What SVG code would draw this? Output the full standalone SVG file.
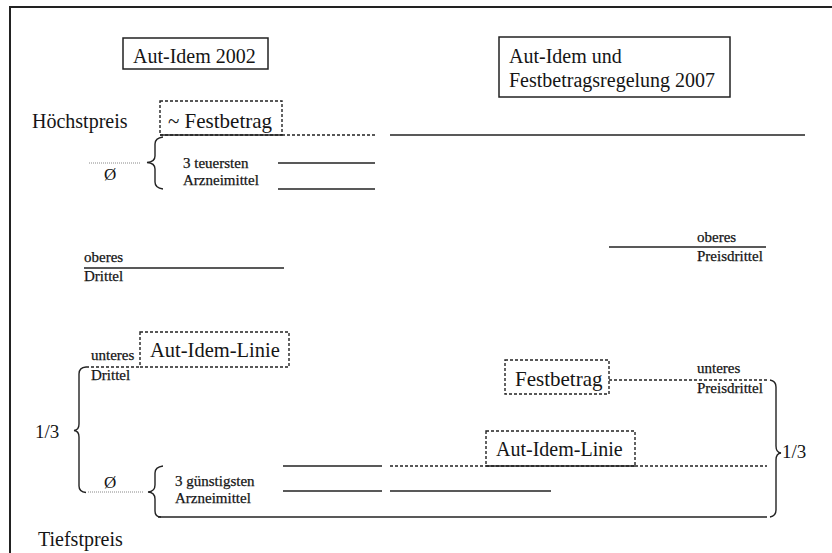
<svg xmlns="http://www.w3.org/2000/svg" width="832" height="553" viewBox="0 0 832 553">
<style>
text{font-family:"Liberation Serif","Times New Roman",serif;fill:#151515}
.big{font-size:20px}
.sm{font-size:15px;stroke:#151515;stroke-width:0.25}
.box{fill:#fff;stroke:#222;stroke-width:1.5}
.dbox{fill:none;stroke:#222;stroke-width:1.4;stroke-dasharray:3 2}
.ln{fill:none;stroke:#222;stroke-width:1.5}
.dot{fill:none;stroke:#222;stroke-width:1.4;stroke-dasharray:3 2}
.gdot{fill:none;stroke:#888;stroke-width:1;stroke-dasharray:1 1}
.br{fill:none;stroke:#222;stroke-width:1.4}
</style>
<rect width="832" height="553" fill="#fff"/>
<g id="frame">
<line class="ln" x1="10" y1="7" x2="832" y2="7" style="stroke-width:2"/>
<line class="ln" x1="10" y1="6" x2="10" y2="553" style="stroke-width:2"/>
</g>
<g id="connectors">
<line class="ln" x1="160" y1="135" x2="282" y2="135"/>
<line class="dot" x1="282" y1="135" x2="376" y2="135"/>
<line class="ln" x1="390" y1="135" x2="805" y2="135"/>
<line class="gdot" x1="89" y1="163" x2="141" y2="163"/>
<line class="ln" x1="278" y1="163" x2="375" y2="163"/>
<line class="ln" x1="278" y1="189" x2="375" y2="189"/>
<line class="ln" x1="84" y1="268" x2="284" y2="268"/>
<line class="ln" x1="609" y1="247" x2="766" y2="247"/>
<line class="dot" x1="86" y1="367" x2="140" y2="367"/>
<line class="dot" x1="609" y1="380" x2="768" y2="380"/>
<line class="ln" x1="283" y1="466" x2="382" y2="466"/>
<line class="dot" x1="390" y1="466" x2="486" y2="466"/>
<line class="ln" x1="486" y1="466" x2="635" y2="466"/>
<line class="dot" x1="635" y1="466" x2="767" y2="466"/>
<line class="gdot" x1="88" y1="492" x2="143" y2="492"/>
<line class="ln" x1="283" y1="491" x2="382" y2="491"/>
<line class="ln" x1="390" y1="491" x2="551" y2="491"/>
<line class="ln" x1="158" y1="517" x2="767" y2="517"/>
<path class="br" d="M163 137 Q155 138 155 144 L155 156 Q155 162 147 162.5 Q155 163 155 169 L155 182 Q155 188 163 189"/>
<path class="br" d="M86 367 Q79 367.5 79 374 L79 424 Q79 430 74 430.5 Q79 431 79 437 L79 486 Q79 492 86 492.5"/>
<path class="br" d="M163 466 Q155 467 155 473 L155 485 Q155 491.5 148 492 Q155 492.5 155 499 L155 511 Q155 517 161 517"/>
<path class="br" d="M770 380 Q776 381 776 387 L776 446 Q776 452.5 781 453 Q776 453.5 776 460 L776 510 Q776 516 770 517"/>
</g>
<g id="title-2002">
<rect class="box" x="123" y="38" width="145" height="31"/>
<text class="big" x="133" y="63">Aut-Idem 2002</text>
</g>
<g id="title-2007">
<rect class="box" x="499" y="37" width="231" height="60"/>
<text class="big" x="509" y="63">Aut-Idem und</text>
<text class="big" x="509" y="87">Festbetragsregelung 2007</text>
</g>
<g id="hoechstpreis">
<text class="big" x="32" y="128">Höchstpreis</text>
</g>
<g id="festbetrag-2002">
<rect class="dbox" x="160" y="101" width="122" height="34"/>
<text class="big" x="168" y="128" style="font-size:21px">~ Festbetrag</text>
</g>
<g id="avg-top">
<text x="104" y="180" style="font-size:17px">Ø</text>
<text class="sm" x="183" y="168">3 teuersten</text>
<text class="sm" x="183" y="185">Arzneimittel</text>
</g>
<g id="oberes-drittel">
<text class="sm" x="84" y="262">oberes</text>
<text class="sm" x="84" y="281">Drittel</text>
</g>
<g id="oberes-preisdrittel">
<text class="sm" x="697" y="242">oberes</text>
<text class="sm" x="697" y="261">Preisdrittel</text>
</g>
<g id="aut-idem-linie-2002">
<rect class="dbox" x="140" y="332" width="149" height="35"/>
<text class="big" x="150" y="357" style="font-size:20.5px">Aut-Idem-Linie</text>
</g>
<g id="unteres-drittel">
<text class="sm" x="91" y="360">unteres</text>
<text class="sm" x="91" y="380">Drittel</text>
</g>
<g id="festbetrag-2007">
<rect class="dbox" x="505" y="360" width="104" height="34"/>
<text class="big" x="515" y="386" style="font-size:21px">Festbetrag</text>
</g>
<g id="unteres-preisdrittel">
<text class="sm" x="697" y="373">unteres</text>
<text class="sm" x="697" y="393">Preisdrittel</text>
</g>
<g id="third-left">
<text x="35" y="438" style="font-size:19px">1/3</text>
</g>
<g id="aut-idem-linie-2007">
<rect class="dbox" x="486" y="431" width="149" height="35"/>
<text class="big" x="496" y="456">Aut-Idem-Linie</text>
</g>
<g id="third-right">
<text x="782" y="458" style="font-size:19px">1/3</text>
</g>
<g id="avg-bottom">
<text x="104" y="488" style="font-size:17px">Ø</text>
<text class="sm" x="175" y="486">3 günstigsten</text>
<text class="sm" x="175" y="503">Arzneimittel</text>
</g>
<g id="tiefstpreis">
<text class="big" x="38" y="546">Tiefstpreis</text>
</g>
</svg>
